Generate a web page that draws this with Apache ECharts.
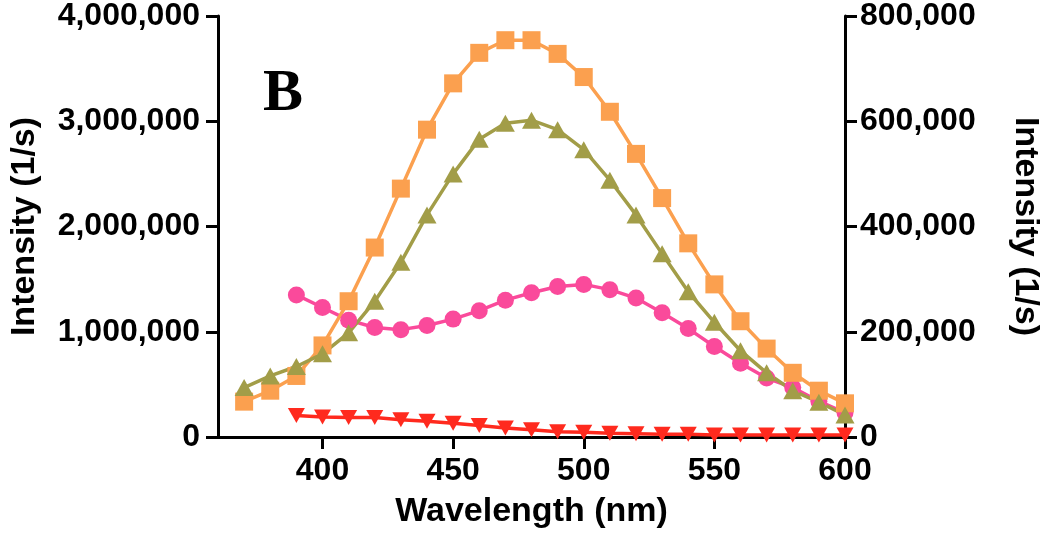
<!DOCTYPE html>
<html>
<head>
<meta charset="utf-8">
<script src="https://cdn.jsdelivr.net/npm/echarts@6/dist/echarts.min.js"></script>
<style>html,body{margin:0;padding:0;background:#fff;}#c{width:1050px;height:534px;}</style>
</head>
<body>
<div id="c"></div>
<script>
// Wavelengths (nm)
const wavelengthLong = [370,380,390,400,410,420,430,440,450,460,470,480,490,500,510,520,530,540,550,560,570,580,590,600];
const wavelengthShort = [390,400,410,420,430,440,450,460,470,480,490,500,510,520,530,540,550,560,570,580,590,600];
// Left axis series
const orangeSquares = [336000,440000,580000,870000,1290000,1800000,2360000,2920000,3360000,3650000,3770000,3770000,3640000,3420000,3090000,2690000,2270000,1840000,1450000,1100000,840000,610000,440000,320000];
const oliveTriangles = [470000,580000,670000,790000,990000,1290000,1660000,2110000,2500000,2830000,2980000,3010000,2920000,2730000,2440000,2110000,1740000,1380000,1090000,820000,610000,440000,330000,210000];
// Right axis series
const pinkCircles = [270000,246000,222000,208000,204000,212000,224000,240000,260000,274000,286000,290000,280000,264000,236000,206000,172000,140000,112000,94000,68000,46000];
const redInverted = [41000,38000,37000,37000,33000,30000,26000,22000,17000,14000,10000,9000,7000,6000,5000,5000,4000,4000,4000,4000,4000,4000];
// Ticks
const xTicks = [400,450,500,550,600];

const pair = (xs, ys) => xs.map((x, i) => [x, ys[i]]);
const fmt = v => Math.round(v).toLocaleString('en-US');
const FONT = 'Liberation Sans, Arial, sans-serif';
const axisLine = {show: true, lineStyle: {color: '#000', width: 3}};
const axisTick = {show: true, inside: false, length: 12, lineStyle: {color: '#000', width: 3}};

const chart = echarts.init(document.getElementById('c'), null, {renderer: 'canvas'});
chart.setOption({
  animation: false,
  backgroundColor: '#fff',
  grid: {left: 214, right: 194, top: 11, bottom: 94, containLabel: false},
  xAxis: {
    type: 'value', min: 360, max: 600,
    name: 'Wavelength (nm)', nameLocation: 'middle', nameGap: 58,
    nameTextStyle: {fontFamily: FONT, fontWeight: 'bold', fontSize: 34, color: '#000'},
    axisLine: axisLine,
    axisTick: Object.assign({customValues: xTicks}, axisTick),
    axisLabel: {customValues: xTicks, margin: 18, fontFamily: FONT, fontWeight: 'bold', fontSize: 32, color: '#000'},
    splitLine: {show: false}
  },
  yAxis: [
    {
      type: 'value', min: 0, max: 4000000, interval: 1000000, position: 'left',
      name: 'Intensity (1/s)', nameLocation: 'middle', nameGap: 176,
      nameTextStyle: {fontFamily: FONT, fontWeight: 'bold', fontSize: 34, color: '#000'},
      axisLine: axisLine, axisTick: axisTick,
      axisLabel: {margin: 18, formatter: fmt, fontFamily: FONT, fontWeight: 'bold', fontSize: 32, color: '#000'},
      splitLine: {show: false}
    },
    {
      type: 'value', min: 0, max: 800000, interval: 200000, position: 'right',
      name: 'Intensity (1/s)', nameLocation: 'middle', nameGap: 163, nameRotate: -90,
      nameTextStyle: {fontFamily: FONT, fontWeight: 'bold', fontSize: 34, color: '#000'},
      axisLine: axisLine, axisTick: axisTick,
      axisLabel: {margin: 15, formatter: fmt, fontFamily: FONT, fontWeight: 'bold', fontSize: 32, color: '#000'},
      splitLine: {show: false}
    }
  ],
  graphic: [{
    type: 'text', left: 263, top: 64,
    style: {text: 'B', fontFamily: 'Liberation Serif, Times New Roman, serif', fontWeight: 'bold', fontSize: 60, fill: '#000'}
  }],
  series: [
    {
      type: 'line', yAxisIndex: 1, data: pair(wavelengthShort, pinkCircles),
      symbol: 'circle', symbolSize: 17,
      lineStyle: {color: '#FA4A9B', width: 3.5}, itemStyle: {color: '#FA4A9B'}
    },
    {
      type: 'line', yAxisIndex: 0, data: pair(wavelengthLong, orangeSquares),
      symbol: 'rect', symbolSize: 18,
      lineStyle: {color: '#FBA04F', width: 3.5}, itemStyle: {color: '#FBA04F'}
    },
    {
      type: 'line', yAxisIndex: 0, data: pair(wavelengthLong, oliveTriangles),
      symbol: 'triangle', symbolSize: [19, 17],
      lineStyle: {color: '#A29D48', width: 3.5}, itemStyle: {color: '#A29D48'}
    },
    {
      type: 'line', yAxisIndex: 1, data: pair(wavelengthShort, redInverted),
      symbol: 'triangle', symbolRotate: 180, symbolSize: [17, 15],
      lineStyle: {color: '#FF2A1E', width: 3.5}, itemStyle: {color: '#FF2A1E'}
    }
  ]
});
</script>
</body>
</html>
